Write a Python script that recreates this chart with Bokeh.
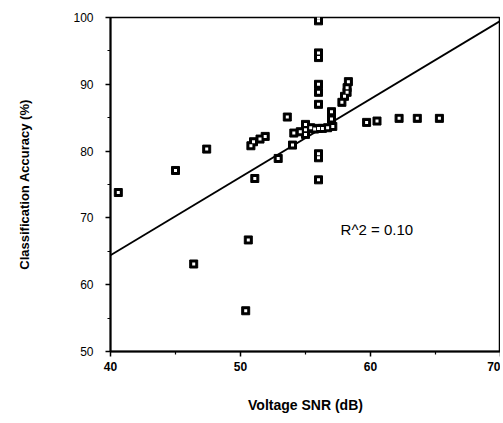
from bokeh.plotting import figure
from bokeh.models import Range1d, Label, FixedTicker
from bokeh.embed import file_html
from bokeh.resources import INLINE

# ---- data ----
snr_db = [40.6, 45.0, 46.4, 47.4, 50.4, 50.6, 50.8, 51.0, 51.1, 51.5, 51.9, 52.9,
          53.6, 54.0, 54.1, 54.6, 55.0, 55.0, 55.0, 55.4, 55.7, 56.0, 56.3, 56.7,
          57.1, 56.0, 56.0, 56.0, 56.0, 56.0, 56.0, 56.0, 56.0, 56.0, 56.0, 57.0,
          57.0, 57.8, 58.0, 58.2, 58.2, 58.3, 59.7, 60.5, 62.2, 63.6, 65.3]
accuracy = [73.8, 77.1, 63.1, 80.3, 56.1, 66.7, 80.8, 81.4, 75.9, 81.8, 82.2, 78.9,
            85.1, 80.9, 82.7, 82.9, 83.2, 84.0, 82.5, 83.5, 83.3, 83.4, 83.4, 83.5,
            83.7, 100.0, 99.5, 94.7, 94.0, 90.0, 88.8, 87.0, 79.6, 79.0, 75.7, 85.9,
            84.8, 87.3, 88.2, 88.8, 89.5, 90.4, 84.3, 84.5, 84.9, 84.9, 84.9]
fit_x = [40, 70]
fit_y = [64.4, 99.5]
x_ticks = [40, 50, 60, 70]
y_ticks = [50, 60, 70, 80, 90, 100]
r2_text = "R^2 = 0.10"

FONT = "Liberation Sans"

p = figure(width=500, height=415, output_backend="svg", toolbar_location=None,
           x_range=Range1d(40, 70), y_range=Range1d(50, 100),
           min_border_left=110, min_border_right=0, min_border_top=17,
           min_border_bottom=60)

p.grid.visible = False
p.outline_line_color = "black"
p.outline_line_width = 1.5
p.background_fill_color = "white"
p.border_fill_color = "white"

# regression line
p.line(fit_x, fit_y, line_color="black", line_width=1.8)

# points: black square with small white centre
p.scatter(snr_db, accuracy, marker="square", size=8, fill_color="black",
          line_color="black", line_width=1)
p.scatter(snr_db, accuracy, marker="square", size=3, fill_color="white",
          line_color=None)

# annotation
p.add_layout(Label(x=57.7, y=68.2, text=r2_text, text_font=FONT,
                   text_font_size="15px", text_baseline="middle",
                   text_color="black"))

# axes
p.xaxis.ticker = FixedTicker(ticks=x_ticks, minor_ticks=[45, 55, 65])
p.yaxis.ticker = FixedTicker(ticks=y_ticks, minor_ticks=[55, 65, 75, 85, 95])
for ax in (p.xaxis[0], p.yaxis[0]):
    ax.axis_line_width = 2
    ax.axis_line_color = "black"
    ax.major_tick_line_width = 1.5
    ax.major_tick_out = 5
    ax.major_tick_in = 0
    ax.minor_tick_out = 3
    ax.minor_tick_in = 0
    ax.minor_tick_line_width = 1.2
    ax.major_label_text_font = FONT
    ax.major_label_text_color = "black"
    ax.axis_label_text_font = FONT
    ax.axis_label_text_font_style = "bold"
    ax.axis_label_text_color = "black"

p.xaxis.major_label_text_font_size = "12px"
p.xaxis.major_label_text_font_style = "bold"
p.xaxis.major_label_standoff = 5
p.xaxis.axis_label = "Voltage SNR (dB)"
p.xaxis.axis_label_text_font_size = "14px"
p.xaxis.axis_label_standoff = 23

p.yaxis.major_label_text_font_size = "12px"
p.yaxis.major_label_standoff = 12
p.yaxis.axis_label = "Classification Accuracy (%)"
p.yaxis.axis_label_text_font_size = "13px"
p.yaxis.axis_label_standoff = 38

open("out.html", "w").write(file_html(p, INLINE))
